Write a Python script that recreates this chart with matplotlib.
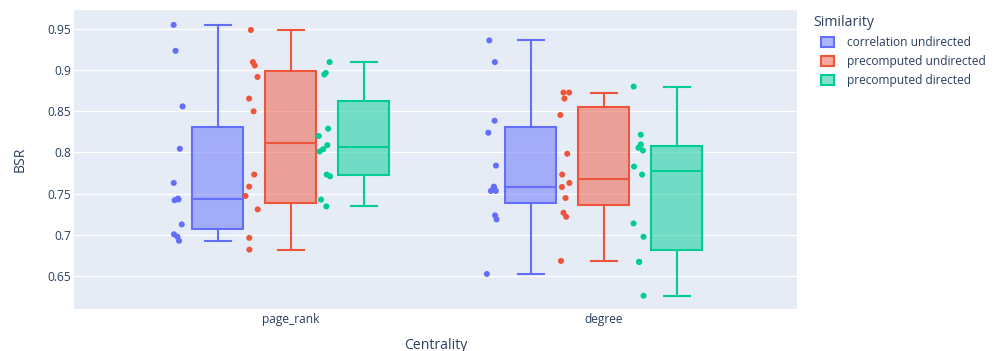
import matplotlib
matplotlib.use("Agg")
import matplotlib.pyplot as plt
import numpy as np
from matplotlib.colors import to_rgba
from matplotlib.patches import Patch

plt.rcParams['font.family'] = ['Open Sans', 'DejaVu Sans']

centralities = ["page_rank", "degree"]
similarities = ["correlation undirected", "precomputed undirected", "precomputed directed"]
colors = ["#636EFA", "#EF553B", "#00CC96"]

# BSR values, per (centrality, similarity)
pr_corr_und = [0.955, 0.9235, 0.856, 0.8045, 0.763, 0.744, 0.743, 0.742,
               0.7126, 0.7006, 0.6976, 0.6927]
pr_pre_und = [0.9488, 0.9098, 0.9057, 0.8918, 0.8655, 0.85, 0.7732, 0.7585,
              0.7472, 0.7309, 0.6963, 0.682]
pr_pre_dir = [0.9098, 0.8967, 0.8947, 0.8289, 0.82, 0.8089, 0.804, 0.8012,
              0.7732, 0.7711, 0.7427, 0.7345]
dg_corr_und = [0.9362, 0.9098, 0.8386, 0.824, 0.7841, 0.7585, 0.7577, 0.7533,
               0.7533, 0.7236, 0.7187, 0.6524]
dg_pre_und = [0.8728, 0.8728, 0.8655, 0.8455, 0.7984, 0.7732, 0.763, 0.7581,
              0.7447, 0.7268, 0.7219, 0.6683]
dg_pre_dir = [0.8801, 0.8216, 0.8098, 0.8057, 0.8024, 0.7829, 0.7732, 0.7138,
              0.6976, 0.6671, 0.6671, 0.626]

# box statistics as drawn (whislo, q1, med, q3, whishi)
pr_stats = [(0.6927, 0.7065, 0.743, 0.8305, 0.955),
            (0.682, 0.739, 0.8114, 0.8988, 0.9488),
            (0.7345, 0.7724, 0.8065, 0.8622, 0.9098)]
dg_stats = [(0.6524, 0.7386, 0.7581, 0.8313, 0.9362),
            (0.6683, 0.7357, 0.7679, 0.8553, 0.8724),
            (0.626, 0.682, 0.7777, 0.8073, 0.8801)]

points = [[pr_corr_und, pr_pre_und, pr_pre_dir],
          [dg_corr_und, dg_pre_und, dg_pre_dir]]
stats = [pr_stats, dg_stats]

fig = plt.figure(figsize=(9.97, 3.51), dpi=100)
ax = fig.add_axes([0.0742, 0.1188, 0.7252, 0.8527])
ax.set_facecolor("#E5ECF6")

rng = np.random.default_rng(3)
offsets = [-0.233, 0.0, 0.233]
box_w = 0.163
for ci in range(len(centralities)):
    for si in range(len(similarities)):
        lo, q1, med, q3, hi = stats[ci][si]
        pos = ci + offsets[si]
        col = colors[si]
        ax.bxp([dict(whislo=lo, q1=q1, med=med, q3=q3, whishi=hi, fliers=[])],
               positions=[pos], widths=box_w, patch_artist=True, showfliers=False,
               boxprops=dict(facecolor=to_rgba(col, 0.5), edgecolor=col, linewidth=1.5),
               medianprops=dict(color=col, linewidth=1.5),
               whiskerprops=dict(color=col, linewidth=1.5),
               capprops=dict(color=col, linewidth=1.5),
               capwidths=box_w / 2, manage_ticks=False, zorder=3)
        vals = np.array(points[ci][si])
        xs = pos - 0.125 + rng.uniform(-0.02, 0.02, len(vals))
        ax.scatter(xs, vals, s=19, color=col, edgecolors="none", zorder=4)

ax.set_xlim(-0.693, 1.617)
ax.set_ylim(0.6095, 0.9731)
ax.set_xticks(range(len(centralities)))
ax.set_xticklabels(centralities)
ax.set_yticks([0.65, 0.7, 0.75, 0.8, 0.85, 0.9, 0.95])
ax.set_yticklabels(["0.65", "0.7", "0.75", "0.8", "0.85", "0.9", "0.95"])
ax.grid(axis="y", color="white", linewidth=1)
ax.set_axisbelow(True)
for sp in ax.spines.values():
    sp.set_visible(False)
ax.tick_params(length=0, labelsize=8.64, colors="#2a3f5f", pad=3)
ax.tick_params(axis="y", pad=2)
ax.set_xlabel("Centrality", fontsize=10.08, color="#2a3f5f", labelpad=8)
ax.set_ylabel("BSR", fontsize=10.08, color="#2a3f5f", labelpad=14)

fig.text(813 / 997, 1 - 23 / 351, "Similarity", fontsize=10.08, color="#2a3f5f",
         ha="left", va="center")
handles = [Patch(facecolor=to_rgba(c, 0.5), edgecolor=c, linewidth=1.5) for c in colors]
fig.legend(handles, similarities, loc="upper left", bbox_to_anchor=(821 / 997, 1 - 36 / 351),
           frameon=False, fontsize=8.64, labelcolor="#2a3f5f", handlelength=1.1,
           handleheight=0.9, handletextpad=1.1, labelspacing=0.5, borderpad=0,
           borderaxespad=0)

fig.savefig("out.png", dpi=100)
